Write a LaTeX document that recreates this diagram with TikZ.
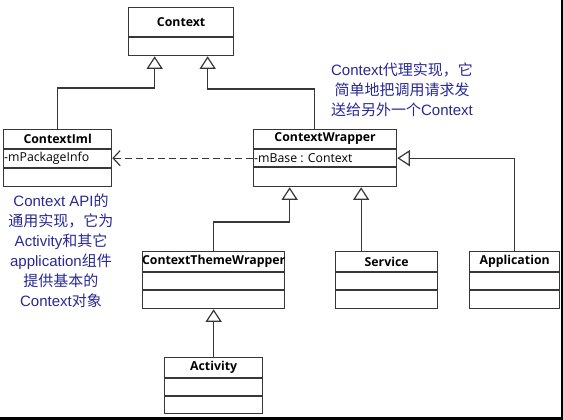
\documentclass[tikz,border=0pt]{standalone}
\usepackage{fontspec}
\setmainfont{Liberation Sans}
\newfontfamily\umlfont{Open Sans}
\newfontfamily\cjk{Noto Sans CJK SC}
\usetikzlibrary{arrows.meta,calc}

\definecolor{notecolor}{RGB}{40,40,150}
\definecolor{linecolor}{RGB}{55,55,55}

\tikzset{
  cls/.style={draw=linecolor, line width=1.3pt, anchor=north west, minimum height=57pt, inner sep=0pt},
  title/.style={font=\umlfont\bfseries\fontsize{12.3}{14}\selectfont},
  attr/.style={font=\umlfont\fontsize{12.3}{14}\selectfont, anchor=west, inner sep=1pt},
  gen/.style={draw=linecolor, line width=1.3pt, -{Triangle[open, width=16pt, length=12.5pt, line width=1.2pt]}},
  dep/.style={draw=linecolor, line width=1.3pt, dash pattern=on 7pt off 4pt, -{Straight Barb[length=7pt, width=15pt, line width=1.2pt]}},
  note/.style={text=notecolor, align=center, font=\fontsize{15}{20}\selectfont},
}

\begin{document}
\begin{tikzpicture}[x=1pt, y=-1pt]

    \useasboundingbox (0,0) rectangle (563,420);

    % 绘制类框
    \node[cls, minimum width=105pt, minimum height=48pt] (ctx) at (128,7) {};
    \node[cls, minimum width=108pt] (iml) at (3,129) {};
    \node[cls, minimum width=143pt] (wrap) at (253,129) {};
    \node[cls, minimum width=142pt] (theme) at (142,251) {};
    \node[cls, minimum width=102pt] (svc) at (335,251) {};
    \node[cls, minimum width=90pt] (app) at (469,251) {};
    \node[cls, minimum width=98pt, minimum height=56pt] (act) at (164,357) {};

    % 分隔线
    \draw[linecolor, line width=1.3pt] ([yshift=-30pt]ctx.north west) -- ([yshift=-30pt]ctx.north east);
    \foreach \n/\a/\b in {iml/20/39, wrap/20/38, theme/21/39, svc/21/39, app/21/39, act/21/39} {
        \draw[linecolor, line width=1.3pt] ([yshift=-\a pt]\n.north west) -- ([yshift=-\a pt]\n.north east);
        \draw[linecolor, line width=1.3pt] ([yshift=-\b pt]\n.north west) -- ([yshift=-\b pt]\n.north east);
    }

    % 类名
    \node[title] (ctx-t) at ([yshift=-15pt]ctx.north) {Context};
    \node[title] (iml-t) at ([yshift=-10pt]iml.north) {ContextIml};
    \node[title] (wrap-t) at ([yshift=-10pt]wrap.north) {ContextWrapper};
    \node[title] (theme-t) at ([yshift=-10.5pt]theme.north) {ContextThemeWrapper};
    \node[title] (svc-t) at ([yshift=-10.5pt]svc.north) {Service};
    \node[title] (app-t) at ([yshift=-10.5pt]app.north) {Application};
    \node[title] (act-t) at ([yshift=-10.5pt]act.north) {Activity};

    % 属性
    \node[attr] (iml-a) at ([yshift=-29pt]iml.north west) {-mPackageInfo};
    \node[attr] (wrap-a) at ([yshift=-29pt]wrap.north west) {-mBase : Context};

    % 继承关系
    \draw[gen] (iml.north) -- ++(0,-41) -| ([xshift=-26.5pt]ctx.south);
    \draw[gen] ([xshift=-10.5pt]wrap.north) -- ++(0,-40) -| ([xshift=26.5pt]ctx.south);
    \draw[gen] (theme.north) -- ++(0,-29) -| ([xshift=-35.5pt]wrap.south);
    \draw[gen] ([xshift=-25.5pt]svc.north) -- ([xshift=36pt]wrap.south);
    \draw[gen] (app.north) |- (wrap.east);
    \draw[gen] (act.north) -- (theme.south);

    % 依赖关系
    \draw[dep] (wrap.west) -- (iml.east);

    % 注释
    \node[note] (note-iml) at (61,251) {Context API{\cjk 的}\\{\cjk 通用实现，它为}\\Activity{\cjk 和其它}\\application{\cjk 组件}\\{\cjk 提供基本的}\\Context{\cjk 对象}};
    \node[note] (note-wrap) at (402,90) {Context{\cjk 代理实现，它}\\{\cjk 简单地把调用请求发}\\{\cjk 送给另外一个}Context};

    % 边框
    \fill[black] (561,0) rectangle (563,420);
    \fill[black] (0,417) rectangle (563,420);

\end{tikzpicture}
\end{document}
